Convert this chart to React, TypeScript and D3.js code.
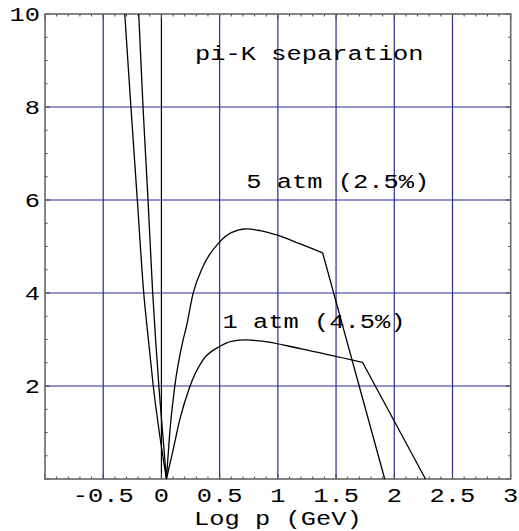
import * as d3 from "d3";

// pi-K separation vs log10 p, two gas pressures
// each curve: left branch -> sharp cusp -> smooth hump -> sharp knee -> linear drop
const atm5X = [-0.195, -0.158, -0.115, -0.075, -0.05, -0.022, 0.01, 0.043, 0.071, 0.114, 0.186, 0.215, 0.272, 0.357, 0.5, 0.6, 0.73, 0.85, 0.988, 1.188, 1.385, 1.918];
const atm5Y = [10, 8, 6, 4, 3, 2, 1, 0, 0.98, 1.98, 2.99, 3.28, 3.99, 4.57, 5.1, 5.3, 5.38, 5.34, 5.25, 5.06, 4.86, 0];
const atm5Cusp = 7;
const atm5Knee = 20;

const atm1X = [-0.315, -0.262, -0.207, -0.152, -0.112, -0.07, -0.018, 0.043, 0.1, 0.157, 0.243, 0.357, 0.5, 0.6, 0.73, 0.845, 1.2, 1.727, 2.268];
const atm1Y = [10, 8, 6, 4, 3, 2, 1, 0, 0.62, 1.27, 1.98, 2.56, 2.85, 2.96, 2.99, 2.97, 2.8, 2.51, 0];
const atm1Cusp = 7;
const atm1Knee = 17;

const xTicks = [-0.5, 0, 0.5, 1, 1.5, 2, 2.5, 3];
const yTicks = [2, 4, 6, 8, 10];
const xGrid = [-0.5, 0.5, 1, 1.5, 2, 2.5];
const yGrid = [2, 4, 6, 8];

const W = 519;
const H = 531;
const FONT = "'Liberation Mono', 'Courier New', monospace";
const NAVY = "#2b2b95";
const SX = 1.27; // the reference's courier is stretched sideways

const x = d3.scaleLinear().domain([-1, 3]).range([45, 510.7]);
const y = d3.scaleLinear().domain([0, 10]).range([479, 14]);

function curvePath(xs: number[], ys: number[], cusp: number, knee: number) {
  const pts: [number, number][] = xs.map((v, i) => [x(v), y(ys[i])]);
  const lin = d3.line().curve(d3.curveLinear);
  const smooth = d3.line().curve(d3.curveMonotoneX);
  return (
    (smooth(pts.slice(0, cusp + 1)) || "") +
    (smooth(pts.slice(cusp, knee + 1)) || "") +
    (lin(pts.slice(knee)) || "")
  );
}

function Label(props: { x: number; y: number; anchor?: string; dy?: string; children: string }) {
  return (
    <text
      transform={`translate(${props.x},${props.y}) scale(${SX},1)`}
      textAnchor={props.anchor || "middle"}
      dy={props.dy}
    >
      {props.children}
    </text>
  );
}

export default function App() {
  const xMinor = d3.range(-10, 31).map((i) => i / 10);
  const yMinor = d3.range(0, 21).map((i) => i / 2);
  const [x0, x1] = x.range();
  const [y0, y1] = y.range();
  const fmt = (v: number) => (v < 0 ? "-" + Math.abs(v) : String(v));

  return (
    <svg
      width={W}
      height={H}
      style={{ position: "absolute", left: 0, top: 0, background: "#fff" }}
      fontFamily={FONT}
      fontSize={20}
    >
      {/* grid */}
      {xGrid.map((v) => (
        <line key={"gx" + v} x1={x(v)} x2={x(v)} y1={y0} y2={y1} stroke={NAVY} strokeWidth={1.2} />
      ))}
      {yGrid.map((v) => (
        <line key={"gy" + v} x1={x0} x2={x1} y1={y(v)} y2={y(v)} stroke={NAVY} strokeWidth={1.2} />
      ))}
      <line x1={x(0)} x2={x(0)} y1={y0} y2={y1} stroke="#000" strokeWidth={1.2} />

      {/* minor/major ticks on all sides */}
      {xMinor.map((v) => {
        const len = Math.abs(v * 2 - Math.round(v * 2)) < 1e-6 ? 5 : 2.5;
        return (
          <g key={"tx" + v} stroke="#444" strokeWidth={1}>
            <line x1={x(v)} x2={x(v)} y1={y0} y2={y0 - len} />
            <line x1={x(v)} x2={x(v)} y1={y1} y2={y1 + len} />
          </g>
        );
      })}
      {yMinor.map((v) => {
        const len = v % 2 === 0 ? 5 : 2.5;
        return (
          <g key={"ty" + v} stroke="#444" strokeWidth={1}>
            <line x1={x0} x2={x0 + len} y1={y(v)} y2={y(v)} />
            <line x1={x1} x2={x1 - len} y1={y(v)} y2={y(v)} />
          </g>
        );
      })}

      {/* frame */}
      <rect x={x0} y={y1} width={x1 - x0} height={y0 - y1} fill="none" stroke="#666" strokeWidth={1.6} />

      {/* curves */}
      <path d={curvePath(atm5X, atm5Y, atm5Cusp, atm5Knee)} fill="none" stroke="#000" strokeWidth={1.3} />
      <path d={curvePath(atm1X, atm1Y, atm1Cusp, atm1Knee)} fill="none" stroke="#000" strokeWidth={1.3} />

      {/* tick labels */}
      {yTicks.map((v) => (
        <Label key={"ly" + v} x={x0 - 5} y={y(v)} dy="0.35em" anchor="end">
          {fmt(v)}
        </Label>
      ))}
      {xTicks.map((v) => (
        <Label key={"lx" + v} x={x(v)} y={502}>
          {fmt(v)}
        </Label>
      ))}

      <Label x={x(1)} y={525}>Log p (GeV)</Label>
      <Label x={309.3} y={60}>pi-K separation</Label>
      <Label x={x(1.515)} y={188}>5 atm (2.5%)</Label>
      <Label x={x(1.31)} y={328}>1 atm (4.5%)</Label>
    </svg>
  );
}
